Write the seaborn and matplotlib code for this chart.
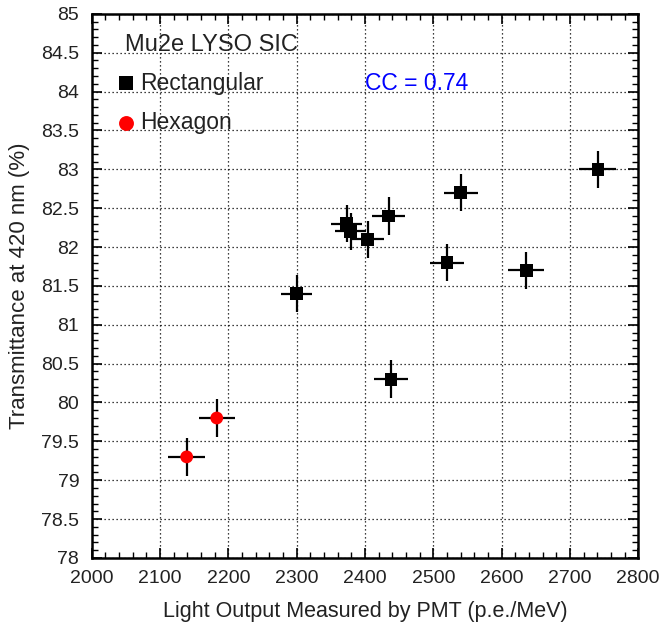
import pandas as pd
import matplotlib.pyplot as plt
from matplotlib.ticker import MultipleLocator
import seaborn as sns

# data
rect_lo = [2300, 2373, 2379, 2404, 2435, 2540, 2520, 2636, 2741, 2438]
rect_tr = [81.4, 82.3, 82.2, 82.1, 82.4, 82.7, 81.8, 81.7, 83.0, 80.3]
rect_xerr = [23, 23, 23, 24, 24, 25, 25, 26, 27, 25]
rect_yerr = [0.24, 0.24, 0.24, 0.24, 0.24, 0.24, 0.24, 0.24, 0.24, 0.24]

hex_lo = [2139, 2183]
hex_tr = [79.3, 79.8]
hex_xerr = [27, 26]
hex_yerr = [0.24, 0.24]

x_ticks = [2000, 2100, 2200, 2300, 2400, 2500, 2600, 2700, 2800]
y_ticks = [78, 78.5, 79, 79.5, 80, 80.5, 81, 81.5, 82, 82.5, 83, 83.5, 84, 84.5, 85]

df = pd.concat([
    pd.DataFrame({'lo': rect_lo, 'tr': rect_tr, 'xerr': rect_xerr, 'yerr': rect_yerr, 'shape': 'Rectangular'}),
    pd.DataFrame({'lo': hex_lo, 'tr': hex_tr, 'xerr': hex_xerr, 'yerr': hex_yerr, 'shape': 'Hexagon'}),
], ignore_index=True)

sns.set_style('ticks')
plt.rcParams['font.family'] = ['Liberation Sans', 'DejaVu Sans']
plt.rcParams['text.color'] = '#222222'
plt.rcParams['axes.labelcolor'] = '#222222'

fig = plt.figure(figsize=(6.6, 6.29), dpi=100)
ax = fig.add_axes([0.139, 0.113, 0.828, 0.865])

ax.errorbar(df['lo'], df['tr'], xerr=df['xerr'], yerr=df['yerr'],
            fmt='none', ecolor='black', elinewidth=1.6, capsize=0, zorder=2)

sns.scatterplot(
    data=df, x='lo', y='tr', hue='shape', style='shape',
    palette={'Rectangular': 'black', 'Hexagon': 'red'},
    markers={'Rectangular': 's', 'Hexagon': 'o'},
    s=85, linewidth=0, zorder=3, legend=False, ax=ax
)

ax.set_xlim(2000, 2800)
ax.set_ylim(78, 85)
ax.set_xticks(x_ticks)
ax.set_xticklabels([str(t) for t in x_ticks])
ax.set_yticks(y_ticks)
ax.set_yticklabels([f'{t:g}' for t in y_ticks])
ax.xaxis.set_minor_locator(MultipleLocator(20))
ax.yaxis.set_minor_locator(MultipleLocator(0.1))
ax.tick_params(which='both', direction='in', top=True, right=True, labelsize=14,
               color='black', labelcolor='#222222')
ax.tick_params(which='major', length=7, width=1.2)
ax.tick_params(which='minor', length=4, width=1.0)
ax.tick_params(axis='x', pad=9)
ax.tick_params(axis='y', pad=9)
ax.grid(True, which='major', linestyle=(0, (1, 2.2)), color='black', linewidth=0.9)
ax.set_axisbelow(True)
for sp in ax.spines.values():
    sp.set_linewidth(1.8)
    sp.set_color('black')

ax.set_xlabel('Light Output Measured by PMT (p.e./MeV)', fontsize=15.5, labelpad=10)
ax.set_ylabel('Transmittance at 420 nm (%)', fontsize=16, labelpad=8)

# legend-like annotations
ax.text(2048, 84.6, 'Mu2e LYSO SIC', fontsize=17, va='center', ha='left')
ax.scatter([2050], [84.11], marker='s', s=115, color='black', linewidth=0)
ax.text(2071, 84.11, 'Rectangular', fontsize=16.5, va='center', ha='left')
ax.scatter([2050], [83.6], marker='o', s=115, color='red', linewidth=0)
ax.text(2071, 83.6, 'Hexagon', fontsize=16.5, va='center', ha='left')
ax.text(2400, 84.11, 'CC = 0.74', fontsize=16.5, color='blue', va='center', ha='left')

fig.savefig('out.png', dpi=100)
